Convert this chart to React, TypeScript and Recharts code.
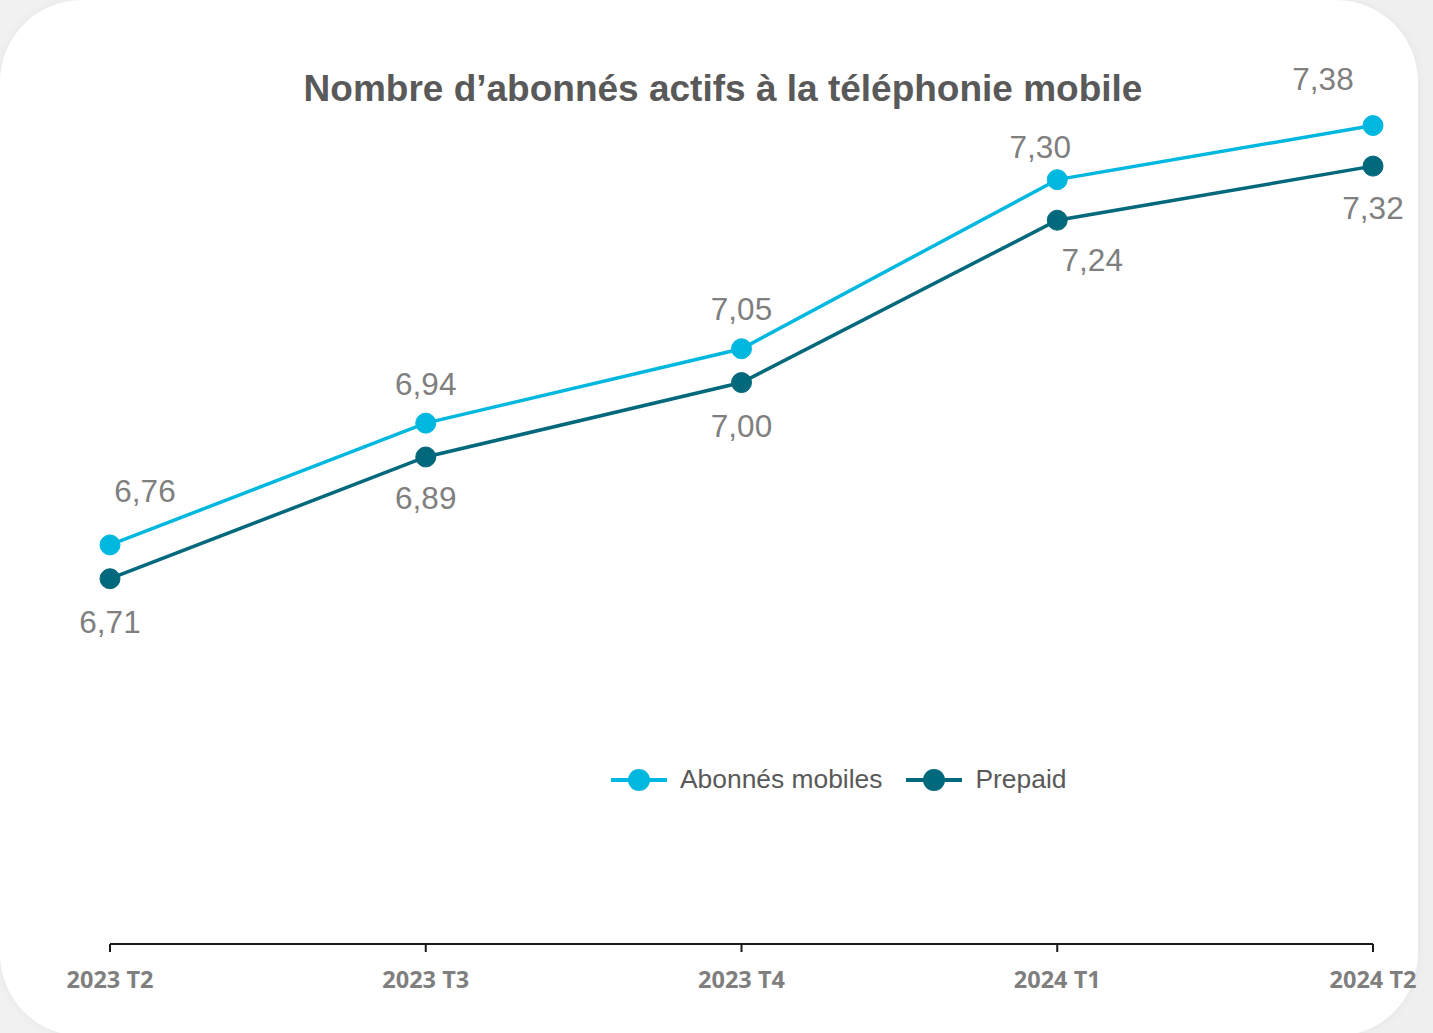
import React from 'react';
import { LineChart, Line, XAxis, YAxis, Legend, LabelList } from 'recharts';

// quarters and values (millions)
const quarters = ['2023 T2', '2023 T3', '2023 T4', '2024 T1', '2024 T2'];
const abonnes = [6.76, 6.94, 7.05, 7.3, 7.38];
const prepaid = [6.71, 6.89, 7.0, 7.24, 7.32];

const CYAN = '#00b8df';
const TEAL = '#02687b';

// label nudges (dx, dy) from each point, as in the original slide
const abonnesNudge = [[35, -54], [0, -39], [0, -40], [-17, -33], [-50, -47]];
const prepaidNudge = [[0, 43], [0, 41], [0, 43], [35, 40], [0, 42]];

const data = quarters.map((q, i) => ({ q, abonnes: abonnes[i], prepaid: prepaid[i] }));

const fmt = (v: number) => v.toFixed(2).replace('.', ',');

const makeLabel = (nudge: number[][]) => (props: any) => {
  const { x, y, value, index } = props;
  const [dx, dy] = nudge[index] || [0, -40];
  return (
    <text
      x={x + dx}
      y={y + dy}
      textAnchor="middle"
      dominantBaseline="central"
      fill="#7f7f7f"
      fontSize={31.5}
      fontFamily="'Liberation Sans', Arial, sans-serif"
    >
      {fmt(value)}
    </text>
  );
};

function LegendContent(props: any) {
  const items = props.payload || [];
  return (
    <div style={{ display: 'flex', alignItems: 'center', fontFamily: "'Liberation Sans', Arial, sans-serif", fontSize: 26.4, color: '#595959' }}>
      {items.map((it: any, i: number) => (
        <div key={i} style={{ display: 'flex', alignItems: 'center', marginRight: 24 }}>
          <svg width={56} height={24} style={{ marginRight: 13 }}>
            <line x1={0} y1={12} x2={56} y2={12} stroke={it.color} strokeWidth={4} />
            <circle cx={28} cy={12} r={11} fill={it.color} />
          </svg>
          <span>{it.value}</span>
        </div>
      ))}
    </div>
  );
}

export default function App() {
  return (
    <div style={{ position: 'absolute', left: 0, top: 0, width: 1433, height: 1033, overflow: 'hidden', background: 'linear-gradient(90deg, #f1f1f1, #f6f6f6 50%, #efefef)' }}>
      <div style={{ position: 'absolute', left: 0, top: 0, width: 1418, height: 1036, borderRadius: 82, background: '#ffffff', boxShadow: '0 0 10px rgba(0,0,0,0.05)' }} />
      <div style={{ position: 'absolute', left: 0, top: 68, width: 1446, textAlign: 'center', fontFamily: "'Liberation Sans', Arial, sans-serif", fontWeight: 700, fontSize: 37, color: '#595959' }}>
        Nombre d’abonnés actifs à la téléphonie mobile
      </div>
      <div style={{ position: 'absolute', left: 0, top: 0 }}>
        <LineChart width={1433} height={1033} data={data} margin={{ top: 112, right: 60, bottom: 29, left: 110 }}>
          <XAxis
            dataKey="q"
            height={60}
            interval={0}
            axisLine={{ stroke: '#1a1a1a', strokeWidth: 2 }}
            tickLine={{ stroke: '#1a1a1a', strokeWidth: 2 }}
            tickSize={8}
            tickMargin={19}
            tick={{ fill: '#7f7f7f', fontSize: 23.5, fontWeight: 700, fontFamily: "'Open Sans', sans-serif" }}
          />
          <YAxis hide domain={[6.17, 7.4]} />
          <Legend
            verticalAlign="middle"
            align="center"
            content={<LegendContent />}
            wrapperStyle={{ left: 611, top: 764, width: 700 }}
          />
          <Line
            name="Abonnés mobiles"
            dataKey="abonnes"
            stroke={CYAN}
            strokeWidth={3.5}
            dot={{ r: 10, fill: CYAN, stroke: CYAN, strokeWidth: 1 }}
            activeDot={false}
            isAnimationActive={false}
          >
            <LabelList dataKey="abonnes" content={makeLabel(abonnesNudge)} />
          </Line>
          <Line
            name="Prepaid"
            dataKey="prepaid"
            stroke={TEAL}
            strokeWidth={3.5}
            dot={{ r: 10, fill: TEAL, stroke: TEAL, strokeWidth: 1 }}
            activeDot={false}
            isAnimationActive={false}
          >
            <LabelList dataKey="prepaid" content={makeLabel(prepaidNudge)} />
          </Line>
        </LineChart>
      </div>
    </div>
  );
}
